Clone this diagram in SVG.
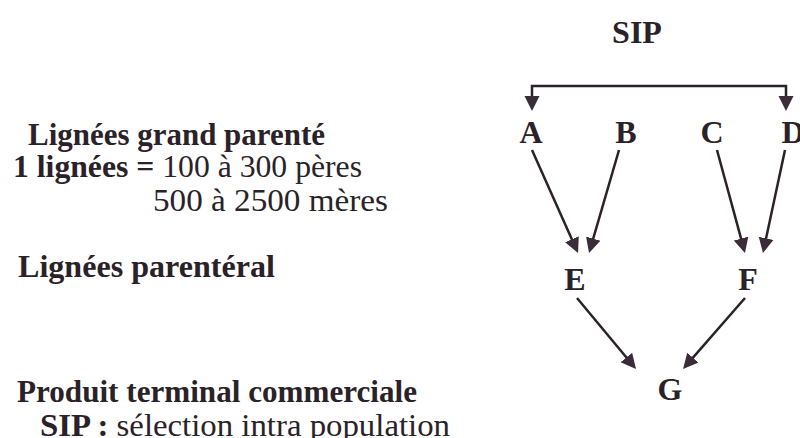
<svg xmlns="http://www.w3.org/2000/svg" width="800" height="438" viewBox="0 0 800 438">
<defs>
<style>
.t{font-family:"Liberation Serif","Times New Roman",serif;font-size:31px;fill:#2a2228}
.b{font-weight:bold}
.n{font-family:"Liberation Serif","Times New Roman",serif;font-size:32px;font-weight:bold;fill:#2a2228;text-anchor:middle}
.c{fill:none;stroke:#2a2228;stroke-width:2.5}
</style>
<marker id="ah" viewBox="0 0 10 10" refX="7" refY="5" markerUnits="userSpaceOnUse" markerWidth="15" markerHeight="16" orient="auto-start-reverse">
<path d="M0,0 L10,5 L0,10 z" fill="#3a2c38"/>
</marker>
</defs>
<rect width="800" height="438" fill="#ffffff"/>
<g id="labels">
<text class="t b" x="28" y="145" textLength="297" lengthAdjust="spacingAndGlyphs">Lignées grand parenté</text>
<text class="t" x="13" y="177" textLength="349" lengthAdjust="spacingAndGlyphs"><tspan class="b">1 lignées =</tspan> 100 à 300 pères</text>
<text class="t" x="153" y="211" textLength="235" lengthAdjust="spacingAndGlyphs">500 à 2500 mères</text>
<text class="t b" x="18" y="277" textLength="257" lengthAdjust="spacingAndGlyphs">Lignées parentéral</text>
<text class="t b" x="17" y="402" textLength="400" lengthAdjust="spacingAndGlyphs">Produit terminal commerciale</text>
<text class="t" x="40" y="436" textLength="410" lengthAdjust="spacingAndGlyphs"><tspan class="b">SIP :</tspan> sélection intra population</text>
</g>
<g id="SIP"><text class="n" x="637" y="43">SIP</text></g>
<g id="A"><text class="n" x="531" y="143">A</text></g>
<g id="B"><text class="n" x="626" y="143">B</text></g>
<g id="C"><text class="n" x="712" y="143">C</text></g>
<g id="D"><text class="n" x="793" y="143">D</text></g>
<g id="E"><text class="n" x="575" y="290">E</text></g>
<g id="F"><text class="n" x="748" y="290">F</text></g>
<g id="G"><text class="n" x="670" y="400">G</text></g>
<g id="connectors">
<path class="c" d="M532,106.5 V86 H786 V106.5" marker-start="url(#ah)" marker-end="url(#ah)"/>
<line class="c" x1="532" y1="150" x2="576.2" y2="248.9" marker-end="url(#ah)"/>
<line class="c" x1="619" y1="150" x2="590.3" y2="248.7" marker-end="url(#ah)"/>
<line class="c" x1="717" y1="150" x2="743.8" y2="248.7" marker-end="url(#ah)"/>
<line class="c" x1="785" y1="150" x2="763.9" y2="248.6" marker-end="url(#ah)"/>
<line class="c" x1="577" y1="298" x2="633.1" y2="365.5" marker-end="url(#ah)"/>
<line class="c" x1="745" y1="298" x2="686" y2="365.6" marker-end="url(#ah)"/>
</g>
</svg>
